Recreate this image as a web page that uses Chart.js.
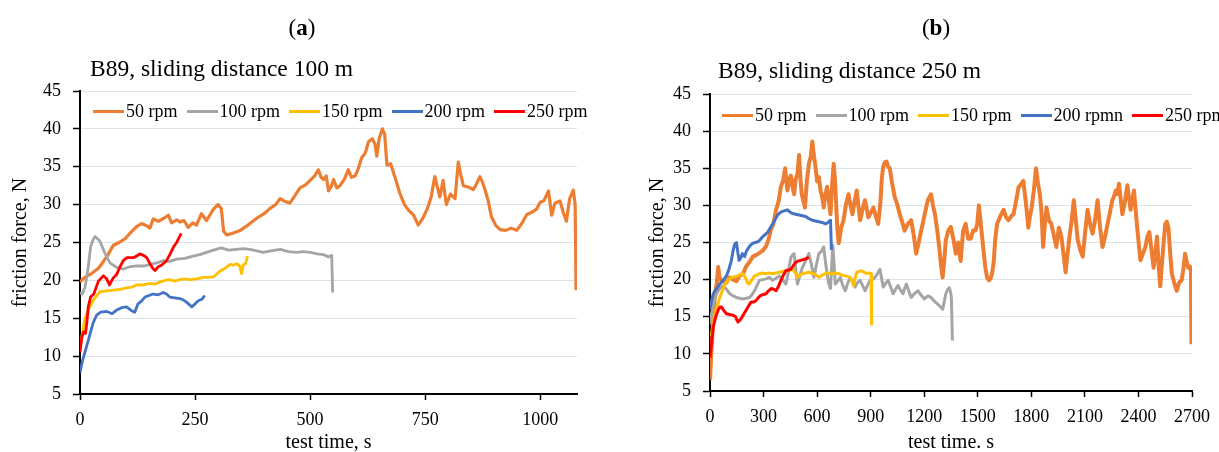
<!DOCTYPE html>
<html>
<head>
<meta charset="utf-8">
<script src="https://cdn.jsdelivr.net/npm/chart.js@4.4.1/dist/chart.umd.min.js"></script>
<style>
  html, body { margin: 0; padding: 0; background: #fff; }
  body { width: 1219px; height: 452px; overflow: hidden; position: relative; font-family: "Liberation Serif", "Times New Roman", serif; color: #000; }
  .cw { position: absolute; top: 0; height: 452px; }
  #wa { left: 0; width: 609px; }
  #wb { left: 609px; width: 610px; }
  .panel { position: absolute; font-size: 23px; line-height: 23px; text-align: center; width: 100px; white-space: nowrap; }
  .sub { position: absolute; font-size: 23.5px; line-height: 23px; white-space: nowrap; }
  .legend { position: absolute; display: flex; align-items: center; font-size: 18px; line-height: 18px; white-space: nowrap; }
  .item { display: flex; align-items: center; margin-right: 9px; }
  .sw { width: 31px; height: 3px; margin-right: 2px; }
</style>
</head>
<body>
<div class="cw" id="wa"><canvas id="ca" width="609" height="452"></canvas></div>
<div class="cw" id="wb"><canvas id="cb" width="610" height="452"></canvas></div>
<div class="panel" style="left:252px;top:16px">(<b>a</b>)</div>
<div class="panel" style="left:886px;top:16px">(<b>b</b>)</div>
<div class="sub" style="left:90px;top:57px">B89, sliding distance 100 m</div>
<div class="sub" style="left:718px;top:59px">B89, sliding distance 250 m</div>
<div class="legend" id="la" style="left:93px;top:102px"></div>
<div class="legend" id="lb" style="left:722px;top:106px"></div>
<script>
// ---------- labels / colours ----------
const labelsA = ['50 rpm', '100 rpm', '150 rpm', '200 rpm', '250 rpm'];
const labelsB = ['50 rpm', '100 rpm', '150 rpm', '200 rpmn', '250 rpm'];
const colors = ['#ED7D31', '#A5A5A5', '#FFC000', '#4472C4', '#FF0000'];
const xTicksA = { max: 1080, step: 250 };
const xTicksB = { max: 2700, step: 300 };
const yTicks = { min: 5, max: 45, step: 5 };
const xTitleA = 'test time, s';
const xTitleB = 'test time. s';
const yTitle = 'friction force, N';

// ---------- panel (a): sliding distance 100 m ----------
const a50t = [0,10,25,40,51,60,72,85,98,110,123,134,145,152,159,170,182,192,199,210,217,226,235,245,253,264,275,283,290,300,307,312,319,330,348,365,384,400,413,425,435,446,456,467,478,490,500,510,518,524,529,535,540,546,551,558,565,575,583,590,598,605,612,620,627,635,641,645,650,657,662,667,675,685,695,705,715,725,735,745,755,763,771,777,782,789,796,805,815,822,828,833,845,855,862,869,875,880,887,894,903,913,925,937,949,960,971,982,992,1000,1008,1018,1025,1032,1043,1050,1057,1064,1072,1076,1078];
const a50f = [19.8,20.4,20.9,21.6,22.5,23.3,24.6,25,25.5,26.3,27.1,27.5,27.2,26.9,28.1,27.8,28.2,28.6,27.6,28,27.7,27.9,27,27.6,27.3,28.8,27.9,28.7,29.4,30,29.5,26.5,26,26.2,26.6,27.3,28.2,28.8,29.5,30,30.8,30.4,30.2,31.2,32.2,32.6,33.2,33.8,34.6,33.6,33.3,33.8,31.8,32.4,33.3,32.2,32.5,33.4,34.6,33.6,33.8,34.8,36.2,36.8,38.3,38.7,38,36.4,38.7,40,39.3,35.2,35.4,33.5,31.5,30,29.2,28.6,27.3,28.2,29.5,31,33.7,32.2,31,33.2,30,31.4,30.8,35.6,33.8,32.5,32.3,32,32.8,33.7,32.9,32,30.5,28.4,27.3,26.7,26.6,26.9,26.6,27.5,28.7,29,29.4,30.3,30.5,31.8,28.6,30.2,30.5,29,27.8,30.8,31.9,30,18.7];

const a100t = [0,5,11,18,23,28,33,43,54,65,80,94,108,123,140,152,167,181,195,210,228,246,260,275,290,307,323,340,355,369,384,398,415,435,453,471,485,500,515,529,540,547,549];
const a100f = [18.4,18.2,19.1,21.8,24.4,25.3,25.8,25.2,23.6,22.3,21.7,21.5,21.8,21.9,21.9,22.1,22.3,22.6,22.5,22.8,22.9,23.2,23.4,23.7,24,24.3,24,24.1,24.2,24.1,23.9,23.7,23.9,24.1,23.8,23.7,23.8,23.7,23.5,23.4,23.1,23.3,18.4];

const a150t = [0,5,11,18,29,43,58,72,87,101,112,123,138,152,163,174,185,195,206,217,228,239,254,268,280,290,297,304,315,326,333,340,347,351,355,360,364];
const a150f = [11,13,15,16.1,17.4,18.5,18.6,18.7,18.8,19,19.1,19.4,19.4,19.6,19.5,19.8,20,20.1,19.9,20.1,20.2,20.1,20.2,20.4,20.4,20.5,20.8,21.2,21.6,22.1,22,22.2,21.9,20.9,22.1,22.2,23.2];

const a200t = [0,5,12,20,28,36,45,58,70,80,90,101,112,119,126,134,141,150,159,170,181,188,195,206,217,225,232,243,250,257,265,271];
const a200f = [7.8,9.3,10.8,12.5,14.3,15.4,15.8,15.9,15.6,16.1,16.4,16.5,16,15.8,16.9,17.3,17.8,18,18.2,18.1,18.4,18.2,17.8,17.7,17.6,17.4,17.1,16.5,16.9,17.3,17.5,18];

const a250t = [0,4,8,12,15,18,23,30,40,51,58,64,72,80,87,94,102,116,123,130,138,145,152,158,163,170,177,188,196,203,210,215,220];
const a250f = [10.5,12.5,13.2,13,14.5,16.5,17.8,18.2,19.9,20.6,20.2,19.4,20.3,20.8,21.8,22.6,23,23,23.2,23.5,23.3,23,22.2,21.6,21.3,21.8,22,22.6,23.5,24.4,25,25.6,26.2];

// ---------- panel (b): sliding distance 250 m ----------
const b50t = [0,9,18,28,38,46,52,59,75,92,110,129,148,166,185,203,222,240,258,277,295,314,328,342,356,370,384,397,410,421,428,434,444,453,462,471,480,490,499,507,514,523,532,543,554,564,573,582,591,600,610,619,628,637,646,656,665,675,684,693,700,706,713,721,735,748,762,776,787,798,810,822,831,841,855,868,878,887,900,915,928,942,955,962,970,980,989,998,1007,1020,1035,1048,1063,1076,1090,1108,1127,1141,1155,1169,1183,1200,1220,1238,1249,1260,1272,1284,1294,1303,1312,1321,1335,1349,1363,1377,1390,1404,1418,1432,1446,1460,1474,1487,1497,1506,1515,1524,1534,1543,1552,1562,1571,1580,1589,1598,1608,1617,1631,1645,1658,1672,1686,1700,1714,1728,1741,1755,1769,1783,1792,1802,1814,1826,1837,1848,1857,1866,1876,1885,1898,1912,1926,1940,1954,1968,1980,1992,2003,2014,2026,2038,2049,2060,2074,2088,2102,2115,2129,2143,2157,2171,2185,2199,2213,2227,2240,2254,2263,2273,2282,2291,2300,2310,2324,2338,2347,2356,2365,2375,2384,2393,2402,2411,2425,2439,2450,2461,2473,2485,2494,2504,2513,2522,2536,2550,2559,2568,2578,2587,2601,2615,2628,2642,2652,2661,2670,2679,2688,2694,2697];
const b50f = [6.5,10.9,14.5,18.1,19.5,21.7,20.5,20,19.8,19.6,20.3,20,19.8,20.5,20.8,21.8,22.4,23.1,23.3,23.6,23.9,24.5,25.4,26.8,27.6,29.4,30.5,32.5,33.4,35,33.2,32,33.6,34,32.6,31.5,33.5,34.2,36.8,33.5,31.5,30.6,29.7,33.4,35.6,36.5,38.6,36.7,35.2,33.2,33.8,32,31.2,29.7,31.4,32.5,30.8,28.8,32.8,35.6,33.4,30.5,27,24.9,27,28,30.2,31.5,30,28.8,30.5,32,30,28,29.5,30.7,29.5,28.4,29,29.7,28.6,27.5,30.5,33.5,35.2,35.8,35.9,35.2,35,33,31.1,30.2,28.8,27.8,26.6,27.5,28,26,23.5,25,26.6,28.5,30.7,31.5,30,28.8,26.8,24.4,22,20.3,22.5,25.3,26.6,27.1,25.5,23.5,25,22.5,26.6,27.5,25.5,25.5,26.6,26.6,27.5,30,28,25.8,23.5,21.5,20.3,19.9,20.1,20.8,22.3,25.5,27.5,28,28.8,29.4,28.4,28,28.5,28.8,30.5,32.4,32.8,33.3,30.5,27,28.5,29.7,32,35,33,31.5,29,24.4,27.5,29.7,28,27.5,26,24.4,27,25.8,23.5,21,23.5,25.8,28,30.7,28,25.3,24,23.1,26.5,29.4,27.5,26.2,28,30.7,27,24.4,25.8,27.5,29,30.7,31.2,32,31.5,32.9,31,28.8,30.5,32.7,31,29.4,30.8,32,29.5,27,24.8,22.6,23.5,24.4,25.8,26.4,24,21.6,23.5,25.8,22,19.1,23.5,27.5,27.8,27,23.5,20.8,19.5,18.5,19.6,19.9,21.5,23.5,22.4,21.6,21.8,21.2,11.3];

const b100t = [0,9,20,37,55,74,92,111,130,148,166,185,203,222,236,249,263,277,295,314,332,351,370,388,406,425,439,453,462,471,480,490,503,517,535,554,568,582,596,610,624,637,646,656,665,675,681,688,695,702,716,730,744,758,771,785,799,813,827,841,855,868,882,896,910,924,938,952,961,970,984,998,1012,1026,1040,1053,1067,1081,1090,1100,1113,1127,1145,1164,1183,1201,1220,1238,1257,1275,1289,1303,1312,1321,1330,1340,1347,1352,1358];
const b100f = [14,15.4,16.8,18.1,18.8,19.2,18.7,18.1,17.8,17.6,17.5,17.4,17.5,17.6,18,18.5,19.2,19.9,20,20.1,20.3,19.9,20.2,20.5,20,19.4,21,23,23.3,23.5,21.5,19.4,20.5,21.6,22.5,23.5,22,20.3,22,23.5,23.8,24.4,22.5,20.8,19.5,18.8,21.5,24.6,22,19.4,19.8,20.3,19.2,18.5,19.5,20.3,19.8,19,19.6,19.9,19.2,18.5,19.2,19.9,20,20.3,20.8,21.4,20.2,19,19.5,19.9,19,18.1,18.7,19.2,18.6,18.1,18.8,19.4,18.5,17.6,18.1,18.5,17.9,17.4,17.8,17.6,17.1,16.7,16.4,16,17,18.1,18.6,18.9,18.4,17.6,11.8];

const b150t = [0,9,18,28,42,55,69,83,101,120,138,157,171,185,200,210,218,230,249,263,277,295,314,332,351,370,388,406,425,443,462,476,490,503,517,535,554,568,582,596,610,628,647,665,684,702,721,740,758,772,785,795,804,813,822,836,850,864,878,890,902,905];
const b150f = [12.5,12.7,14,15.4,16.6,17.6,18.5,19.4,19.9,20.3,20.4,20.5,20.7,20.8,20.2,19.6,19.4,19.8,20.5,20.6,20.8,20.9,20.8,20.9,20.8,20.9,21,21.1,21.2,21.2,21.4,21,20.3,20.6,20.8,20.9,21,20.9,20.8,20.6,20.3,20.6,20.8,20.9,20.8,20.9,20.8,20.6,20.5,20.4,20.3,19.8,19.2,20.2,21,21.1,21.2,21,20.8,20.9,20.8,14];

const b200t = [0,9,18,37,55,74,92,106,120,130,139,148,155,163,172,181,188,194,203,213,226,240,254,268,282,296,310,324,338,351,365,379,392,406,420,434,448,462,480,499,518,536,555,573,592,610,628,647,661,675,680];
const b200f = [16,17.2,18.1,18.8,19.4,19.9,20.5,21.4,22.6,24,24.8,25,23.8,22.6,22.9,23.5,23.3,23.1,23.8,24.2,24.6,24.9,25,25.1,25.4,25.8,26.1,26.4,27,27.5,28.1,28.7,29,29.2,29.3,29.4,29.1,28.9,28.8,28.7,28.6,28.5,28.2,28,27.9,27.8,27.7,27.5,27.7,28,24];

const b250t = [0,9,18,32,46,55,65,78,92,110,129,143,150,157,166,176,190,203,217,231,245,259,272,286,300,314,328,342,356,370,384,397,411,425,439,453,467,480,494,508,522,536,545,554];
const b250f = [9.5,11.5,13.6,15,15.9,16.3,16.3,15.8,15.4,15.3,15.2,15,14.6,14.3,14.5,14.8,15.4,15.9,16.5,17,17,17.2,17.6,17.9,18,18.1,18.5,18.8,18.7,18.5,19.1,19.9,20.6,21.2,21.3,21.4,21.9,22.3,22.5,22.6,22.7,22.8,22.9,23];

const seriesA = [[a50t,a50f],[a100t,a100f],[a150t,a150f],[a200t,a200f],[a250t,a250f]];
const seriesB = [[b50t,b50f],[b100t,b100f],[b150t,b150f],[b200t,b200f],[b250t,b250f]];

// ---------- legends (HTML text) ----------
function buildLegend(id, labels) {
  const el = document.getElementById(id);
  labels.forEach((lab, i) => {
    const it = document.createElement('div'); it.className = 'item';
    const sw = document.createElement('div'); sw.className = 'sw'; sw.style.background = colors[i];
    const tx = document.createElement('span'); tx.textContent = lab;
    it.appendChild(sw); it.appendChild(tx); el.appendChild(it);
  });
}
buildLegend('la', labelsA);
buildLegend('lb', labelsB);

// ---------- charts ----------
const FONT = "'Liberation Serif', 'Times New Roman', serif";
function makeChart(id, series, labels, xt, xTitle, W, area, yTitlePad, widths) {
  const datasets = series.map((s, i) => ({
    label: labels[i],
    data: s[0].map((t, k) => ({ x: t, y: s[1][k] })),
    borderColor: colors[i],
    backgroundColor: colors[i],
    borderWidth: widths[i],
    pointRadius: 0,
    tension: 0,
    fill: false,
    borderJoinStyle: 'round',
    order: series.length - i
  }));
  return new Chart(document.getElementById(id), {
    type: 'line',
    data: { datasets },
    options: {
      responsive: false,
      animation: false,
      devicePixelRatio: 1,
      layout: { padding: { left: 0, top: area.top, right: W - area.right, bottom: 0 } },
      plugins: { legend: { display: false }, tooltip: { enabled: false }, title: { display: false } },
      scales: {
        x: {
          type: 'linear', min: 0, max: xt.max,
          ticks: { stepSize: xt.step, includeBounds: false, autoSkip: false, maxRotation: 0, color: '#000', padding: 9,
                   font: { family: FONT, size: 18 }, callback: (v) => String(v) },
          grid: { drawOnChartArea: false, drawTicks: true, tickLength: 6, tickColor: '#000', tickWidth: 1.5 },
          border: { color: '#000', width: 2 },
          title: { display: true, text: xTitle, color: '#000', font: { family: FONT, size: 20 }, padding: { top: 0, bottom: -3 } },
          afterFit: (s) => { s.height = 452 - area.bottom; }
        },
        y: {
          type: 'linear', min: yTicks.min, max: yTicks.max,
          ticks: { stepSize: yTicks.step, autoSkip: false, color: '#000', padding: 12,
                   font: { family: FONT, size: 18 }, callback: (v) => String(v) },
          grid: { color: '#DCE1EA', lineWidth: 1, tickColor: '#000', tickLength: 7, tickWidth: 1.5 },
          border: { color: '#000', width: 2 },
          title: { display: true, text: yTitle, color: '#000', font: { family: FONT, size: 20 }, padding: { top: yTitlePad, bottom: 0 } },
          afterFit: (s) => { s.width = area.left; }
        }
      }
    }
  });
}

makeChart('ca', seriesA, labelsA, xTicksA, xTitleA, 609, { left: 80, right: 577, top: 91, bottom: 394 }, 9, [3.2, 2.8, 2.8, 2.8, 2.8]);
makeChart('cb', seriesB, labelsB, xTicksB, xTitleB, 610, { left: 101, right: 588, top: 94, bottom: 391 }, 37, [4, 3, 3, 3, 3]);
</script>
</body>
</html>
